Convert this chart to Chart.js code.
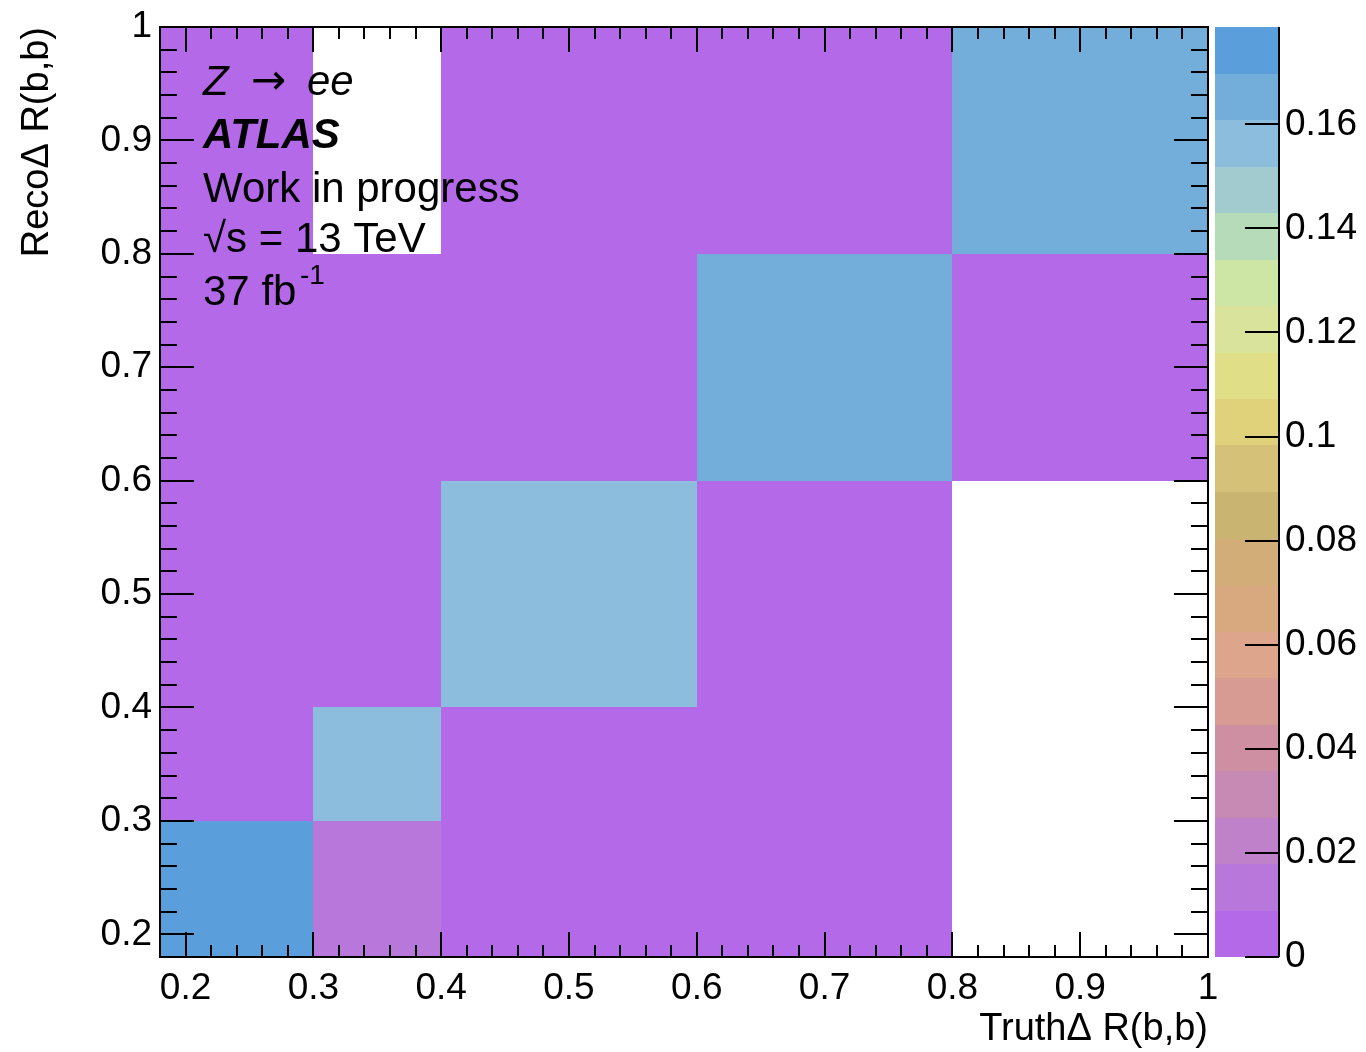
<!DOCTYPE html>
<html>
<head>
<meta charset="utf-8">
<script src="https://cdn.jsdelivr.net/npm/chart.js@4.4.0/dist/chart.umd.min.js"></script>
<style>
  html, body { margin: 0; padding: 0; background: #fff; }
  canvas { display: block; }
</style>
</head>
<body>
<canvas id="heat" width="1366" height="1052"></canvas>
<script>
// bin edges: truth on x, reco on y
const xEdges = [0.18, 0.3, 0.4, 0.6, 0.8, 1.0];
const yEdges = [0.18, 0.3, 0.4, 0.6, 0.8, 1.0];

// bin contents, one row per reco bin from bottom to top (null = empty bin)
const row1 = [0.1787, 0.012, 0.004, 0.002, null];
const row2 = [0.003, 0.156, 0.005, 0.002, null];
const row3 = [0.002, 0.004, 0.154, 0.006, null];
const row4 = [0.001, 0.003, 0.005, 0.163, 0.007];
const row5 = [0.001, null, 0.002, 0.006, 0.165];
const rows = [row1, row2, row3, row4, row5];

// tick labels
const xTicks = [0.2, 0.3, 0.4, 0.5, 0.6, 0.7, 0.8, 0.9, 1];
const yTicks = [0.2, 0.3, 0.4, 0.5, 0.6, 0.7, 0.8, 0.9, 1];
const zTicks = [0, 0.02, 0.04, 0.06, 0.08, 0.1, 0.12, 0.14, 0.16];

// colour palette, lowest band first
const palette = [
    "#b469e8", "#b877db", "#bf81ca", "#c78ab5", "#cf8fa3",
    "#d79b93", "#dda58b", "#d8a87f", "#d2ad77", "#c9b471",
    "#d5c278", "#dfd27b", "#e0df88", "#d9e39c", "#cde6a6",
    "#b5dbb8", "#a2cbcf", "#8dbddc", "#73aeda", "#5b9edc",
];

const zMax = Math.max(...rows.flat().filter(v => v !== null));
const FONT = "'Liberation Sans', Arial, Helvetica, sans-serif";
Chart.defaults.font.family = FONT;
Chart.defaults.color = "#000";

function colorFor(v) {
    const k = Math.min(palette.length - 1, Math.floor(v / zMax * palette.length));
    return palette[k];
}

// invisible tick marks used only as a gap between axis and labels
const gap = len => ({
    display: true,
    drawOnChartArea: false,
    drawTicks: true,
    tickLength: len,
    color: "rgba(0,0,0,0)",
});

const heatPlugin = {
    id: "heat",
    beforeDatasetsDraw(chart) {
        const { ctx, scales: { x, y, z } } = chart;
        ctx.save();
        // cells
        rows.forEach((row, j) => {
            row.forEach((v, i) => {
                if (v === null) return;
                const x0 = Math.round(x.getPixelForValue(xEdges[i]));
                const x1 = Math.round(x.getPixelForValue(xEdges[i + 1]));
                const y0 = Math.round(y.getPixelForValue(yEdges[j]));
                const y1 = Math.round(y.getPixelForValue(yEdges[j + 1]));
                ctx.fillStyle = colorFor(v);
                ctx.fillRect(x0, y1, x1 - x0, y0 - y1);
            });
        });
        // colour bar
        const bx0 = z.left + 7, bx1 = z.left + 71;
        palette.forEach((c, k) => {
            const ya = Math.round(z.getPixelForValue(k * zMax / palette.length));
            const yb = Math.round(z.getPixelForValue((k + 1) * zMax / palette.length));
            ctx.fillStyle = c;
            ctx.fillRect(bx0, yb, bx1 - bx0, ya - yb);
        });
        ctx.restore();
    },
    afterDraw(chart) {
        const { ctx, chartArea: a, scales: { x, y, z } } = chart;
        ctx.save();
        ctx.strokeStyle = "#000";
        ctx.lineWidth = 2;
        ctx.beginPath();
        // x ticks, bottom and top
        for (let k = 10; k < 50; k++) {
            const px = Math.round(x.getPixelForValue(k / 50));
            const len = k % 5 === 0 ? 25 : 12;
            ctx.moveTo(px, a.bottom); ctx.lineTo(px, a.bottom - len);
            ctx.moveTo(px, a.top); ctx.lineTo(px, a.top + len);
        }
        // y ticks, left and right
        for (let k = 10; k < 50; k++) {
            const py = Math.round(y.getPixelForValue(k / 50));
            const len = k % 5 === 0 ? 34 : 17;
            ctx.moveTo(a.left, py); ctx.lineTo(a.left + len, py);
            ctx.moveTo(a.right, py); ctx.lineTo(a.right - len, py);
        }
        // colour bar axis
        const bx1 = z.left + 71;
        ctx.moveTo(bx1, a.top); ctx.lineTo(bx1, a.bottom);
        zTicks.forEach(v => {
            const py = Math.round(z.getPixelForValue(v));
            ctx.moveTo(bx1, py); ctx.lineTo(bx1 - 34, py);
        });
        ctx.stroke();
        ctx.strokeRect(a.left, a.top, a.right - a.left, a.bottom - a.top);

        // labels
        ctx.fillStyle = "#000";
        ctx.textBaseline = "alphabetic";
        ctx.textAlign = "left";
        const lx = a.left + 43;
        ctx.font = "italic 42px " + FONT;
        ctx.fillText("Z", lx, a.top + 68);
        ctx.fillText("ee", lx + 104, a.top + 68);
        ctx.font = "42px 'DejaVu Sans', sans-serif";
        ctx.fillText("\u2192", lx + 48, a.top + 67);
        ctx.font = "italic bold 42px " + FONT;
        ctx.fillText("ATLAS", lx, a.top + 121);
        ctx.font = "42px " + FONT;
        ctx.fillText("Work in progress", lx, a.top + 175);
        ctx.fillText("\u221As = 13 TeV", lx, a.top + 225);
        ctx.fillText("37 fb", lx, a.top + 278);
        ctx.font = "28px " + FONT;
        ctx.fillText("-1", lx + 97, a.top + 257);
        ctx.restore();
    },
};

const tickFont = { size: 37 };
const fmt = v => String(+v.toFixed(2));

new Chart(document.getElementById("heat"), {
    type: "scatter",
    data: { datasets: [] },
    options: {
        responsive: false,
        animation: false,
        devicePixelRatio: 1,
        layout: { padding: { top: 27, right: 0, bottom: 0, left: 0 } },
        plugins: { legend: { display: false }, tooltip: { enabled: false } },
        scales: {
            x: {
                type: "linear",
                min: xEdges[0],
                max: xEdges[xEdges.length - 1],
                afterBuildTicks: s => { s.ticks = xTicks.map(v => ({ value: v })); },
                afterFit: s => { s.height = 95; },
                ticks: { font: tickFont, padding: 0, maxRotation: 0, autoSkip: false, callback: fmt },
                grid: gap(10),
                border: { display: false },
                title: { display: true, text: "Truth\u0394 R(b,b)", align: "end", font: { size: 38 }, padding: 0 },
            },
            y: {
                type: "linear",
                min: yEdges[0],
                max: yEdges[yEdges.length - 1],
                afterBuildTicks: s => { s.ticks = yTicks.map(v => ({ value: v })); },
                afterFit: s => { s.width = 160; },
                ticks: { font: tickFont, padding: 0, autoSkip: false, callback: fmt },
                grid: gap(8),
                border: { display: false },
                title: { display: true, text: "Reco\u0394 R(b,b)", align: "end", font: { size: 38 }, padding: { top: 15, bottom: 0 } },
            },
            z: {
                axis: "y",
                type: "linear",
                position: "right",
                min: 0,
                max: zMax,
                afterBuildTicks: s => { s.ticks = zTicks.map(v => ({ value: v })); },
                afterFit: s => { s.width = 158; },
                ticks: { font: tickFont, padding: 0, autoSkip: false, callback: fmt },
                grid: gap(77),
                border: { display: false },
            },
        },
    },
    plugins: [heatPlugin],
});
</script>
</body>
</html>
